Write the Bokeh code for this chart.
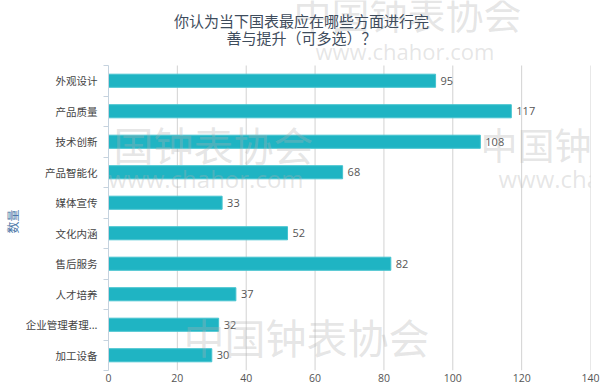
from bokeh.plotting import figure
from bokeh.models import Range1d, FixedTicker, Label, ColumnDataSource
from bokeh.core.properties import value
from bokeh.embed import file_html
from bokeh.resources import INLINE

categories = ["外观设计", "产品质量", "技术创新", "产品智能化", "媒体宣传",
              "文化内涵", "售后服务", "人才培养", "企业管理者理...", "加工设备"]
counts = [95, 117, 108, 68, 33, 52, 82, 37, 32, 30]
x_ticks = [0, 20, 40, 60, 80, 100, 120, 140]
title_lines = ["你认为当下国表最应在哪些方面进行完", "善与提升（可多选）？"]
y_title = "数量"

CJK = "Noto Sans CJK SC"
n = len(categories)
pos = [i + 0.5 for i in range(n)]
BAND_PX = 30.5      # pixel height of one category band
TOP_PX = 65         # header space above the first band (title area)

p = figure(width=600, height=390, output_backend="svg", toolbar_location=None,
           x_range=Range1d(0, 140), y_range=Range1d(n, -TOP_PX / BAND_PX),
           min_border_left=105, min_border_right=10, min_border_top=0,
           min_border_bottom=20)
p.title = None
p.outline_line_color = None
p.background_fill_color = "white"

# vertical grid lines, limited to the band area
gx = x_ticks[1:]
p.segment(x0=gx, y0=[0] * len(gx), x1=gx, y1=[n] * len(gx),
          line_color="#d2d2d2", line_width=1)
p.xgrid.grid_line_color = None
p.ygrid.grid_line_color = None

src = ColumnDataSource(dict(y=pos, v=counts, lab=[str(c) for c in counts]))
p.hbar(y="y", right="v", left=0, height=0.43, source=src,
       fill_color="#1fb4c3", line_color="#45c3cf", line_width=1)
p.text(x="v", y="y", text="lab", source=src, x_offset=5,
       text_baseline="middle", text_align="left",
       text_font=value("Open Sans"), text_font_size="11px", text_color="#555555")

# x axis
p.xaxis.ticker = FixedTicker(ticks=x_ticks)
p.xaxis.axis_line_color = None
p.xaxis.major_tick_line_color = None
p.xaxis.minor_tick_line_color = None
p.xaxis.major_tick_out = 0
p.xaxis.minor_tick_out = 0
p.xaxis.major_label_text_font = "Open Sans"
p.xaxis.major_label_text_font_size = "10.5px"
p.xaxis.major_label_text_color = "#555555"
p.xaxis.major_label_standoff = 3

# y axis (line and ticks only over the category bands)
p.yaxis.bounds = (0, n)
p.yaxis.ticker = FixedTicker(ticks=pos, minor_ticks=list(range(n + 1)))
p.yaxis.major_label_overrides = {pp: c for pp, c in zip(pos, categories)}
p.yaxis.major_tick_line_color = None
p.yaxis.major_tick_out = 0
p.yaxis.major_tick_in = 0
p.yaxis.minor_tick_out = 5
p.yaxis.minor_tick_in = 0
p.yaxis.minor_tick_line_color = "#c5d2de"
p.yaxis.axis_line_color = "#c5d2de"
p.yaxis.major_label_text_font = CJK
p.yaxis.major_label_text_font_size = "10.5px"
p.yaxis.major_label_text_color = "#444444"
p.yaxis.major_label_standoff = 6
# ideographic spaces shift the visible label down to the middle of the bands
p.yaxis.axis_label = y_title + "\u3000" * 6
p.yaxis.axis_label_text_font = CJK
p.yaxis.axis_label_text_font_size = "12px"
p.yaxis.axis_label_text_font_style = "normal"
p.yaxis.axis_label_text_color = "#4e78a8"
p.yaxis.axis_label_standoff = 2

# faint watermark (screen units relative to the plot frame)
wm = [("中国钟表协会", CJK, 185, 358, "38px"), ("www.chahor.com", "Open Sans", 207, 320, "22px"),
      ("国钟表协会", CJK, 5, 227, "40px"), ("www.chahor.com", "Open Sans", 0, 192, "24px"),
      ("中国钟", CJK, 372, 227, "37px"), ("www.cha", "Open Sans", 390, 192, "24px"),
      ("中国钟表协会", CJK, 75, 35, "41px")]
for txt, fnt, x, y, fs in wm:
    p.add_layout(Label(x=x, y=y, x_units="screen", y_units="screen", text=txt,
                       text_align="left", text_baseline="middle",
                       text_font=fnt, text_font_size=fs, text_color="#b0b0b0",
                       text_alpha=0.33, level="overlay"))

# title: two centred lines
for txt, ty in zip(title_lines, [350, 333]):
    p.add_layout(Label(x=193, y=ty, x_units="screen", y_units="screen", text=txt,
                       text_align="center", text_baseline="middle",
                       text_font=CJK, text_font_size="15px", text_color="#3e4c5c",
                       level="overlay"))

open("out.html", "w").write(file_html(p, INLINE))
